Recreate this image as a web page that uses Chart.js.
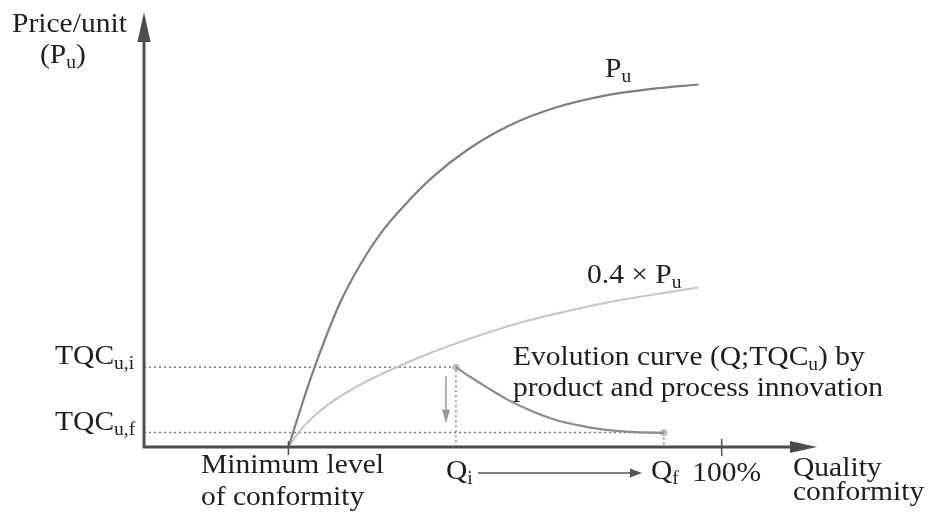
<!DOCTYPE html>
<html>
<head>
<meta charset="utf-8">
<script src="https://cdn.jsdelivr.net/npm/chart.js@4/dist/chart.umd.min.js"></script>
<style>
html,body{margin:0;padding:0;background:#fff;}
#wrap{width:928px;height:515px;position:relative;}
</style>
</head>
<body>
<div id="wrap"><canvas id="c" width="928" height="515"></canvas></div>
<script>
// ---- Data (arbitrary units) ----
// Quality conformity axis: 0 .. ~116 (100 = 100%)
// Price/unit axis: 0 .. 120
const puX = [25, 26.2, 27.6, 29.3, 31.4, 34, 37.5, 41, 45, 50, 56, 63, 71, 80, 88, 96];
const puY = [0, 6, 13, 21, 30, 40, 50.5, 59, 66.5, 74.5, 82, 88.5, 93.5, 97, 98.8, 100];

const p04X = [25, 27, 30, 34, 39, 44, 50, 57, 64, 72, 80, 88, 96];
const p04Y = [0, 4.5, 9.3, 14, 18.5, 22.2, 26.2, 30.2, 33.8, 37, 39.8, 42, 44];

const evoX = [54, 56.5, 59.5, 63, 67, 71, 75.5, 80, 85, 90];
const evoY = [22, 19.3, 16.3, 13, 10, 7.6, 5.9, 4.7, 4.1, 3.9];

// Marks on the quality axis: minimum level, Qi, Qf, 100%
const qualityMarks = [25, 54, 90, 100];
// Marks on the price axis: TQC_u,i, TQC_u,f
const tqcMarks = [22, 4];

const xMax = 116.5;
const yMax = 120;

const [minLevel, Qi, Qf, full] = qualityMarks;
const [tqcI, tqcF] = tqcMarks;

const toPts = (xs, ys) => xs.map((x, i) => ({x: x, y: ys[i]}));

const SERIF = '"Liberation Serif", "Times New Roman", serif';
const MAIN = '28px ' + SERIF;
const SUB = '18.5px ' + SERIF;
const SX = 1.055; // horizontal stretch of the lettering in the reference
const TXT = '#1e1e1e';
const AXIS = '#4d4d4d';

function drawRich(ctx, x, y, parts, align) {
  let w = 0;
  parts.forEach(p => { ctx.font = p.sub ? SUB : MAIN; p.w = ctx.measureText(p.t).width * SX; w += p.w; });
  let cx = align === 'center' ? x - w / 2 : (align === 'right' ? x - w : x);
  ctx.fillStyle = TXT;
  ctx.textAlign = 'left';
  ctx.textBaseline = 'alphabetic';
  parts.forEach(p => {
    ctx.font = p.sub ? SUB : MAIN;
    ctx.save();
    ctx.translate(cx, p.sub ? y + 5 : y);
    ctx.scale(SX, 1);
    ctx.fillText(p.t, 0, 0);
    ctx.restore();
    cx += p.w;
  });
}

function arrowHead(ctx, tipX, tipY, dir, len, half, color) {
  ctx.fillStyle = color;
  ctx.beginPath();
  if (dir === 'up') {
    ctx.moveTo(tipX, tipY); ctx.lineTo(tipX - half, tipY + len); ctx.lineTo(tipX + half, tipY + len);
  } else if (dir === 'right') {
    ctx.moveTo(tipX, tipY); ctx.lineTo(tipX - len, tipY - half); ctx.lineTo(tipX - len, tipY + half);
  } else if (dir === 'down') {
    ctx.moveTo(tipX, tipY); ctx.lineTo(tipX - half, tipY - len); ctx.lineTo(tipX + half, tipY - len);
  }
  ctx.closePath();
  ctx.fill();
}

const decor = {
  id: 'decor',
  afterDatasetsDraw(chart) {
    const ctx = chart.ctx;
    const xs = chart.scales.x, ys = chart.scales.y;
    const area = chart.chartArea;
    const x0 = xs.getPixelForValue(0);
    const y0 = ys.getPixelForValue(0);
    ctx.save();
    ctx.lineCap = 'butt';

    // Axes
    ctx.strokeStyle = AXIS;
    ctx.lineWidth = 3;
    ctx.beginPath();
    ctx.moveTo(x0, y0 + 1.5);
    ctx.lineTo(x0, area.top + 26);
    ctx.moveTo(x0 - 1.5, y0);
    ctx.lineTo(area.right - 24, y0);
    ctx.stroke();
    arrowHead(ctx, x0, area.top, 'up', 30, 6.5, AXIS);
    arrowHead(ctx, area.right, y0, 'right', 27, 6, AXIS);

    // Ticks
    ctx.lineWidth = 1.5;
    ctx.beginPath();
    const mx = xs.getPixelForValue(minLevel);
    ctx.moveTo(mx, y0 - 6); ctx.lineTo(mx, y0 + 8);
    const fx = xs.getPixelForValue(full);
    ctx.moveTo(fx, y0 - 8); ctx.lineTo(fx, y0 + 9);
    ctx.stroke();

    // Down arrow (TQC reduction)
    const qiPx = xs.getPixelForValue(Qi);
    const qfPx = xs.getPixelForValue(Qf);
    const yI = ys.getPixelForValue(tqcI);
    const yF = ys.getPixelForValue(tqcF);
    ctx.strokeStyle = '#9a9a9a';
    ctx.lineWidth = 1.5;
    ctx.beginPath();
    ctx.moveTo(qiPx - 10, yI + 9);
    ctx.lineTo(qiPx - 10, yF - 20);
    ctx.stroke();
    arrowHead(ctx, qiPx - 10, yF - 9, 'down', 14, 4, '#9a9a9a');

    // Qi -> Qf arrow
    const ay = y0 + 26;
    ctx.strokeStyle = '#555';
    ctx.lineWidth = 1.5;
    ctx.beginPath();
    ctx.moveTo(qiPx + 22, ay);
    ctx.lineTo(qfPx - 32, ay);
    ctx.stroke();
    arrowHead(ctx, qfPx - 22, ay, 'right', 12, 4.5, '#555');

    // Texts
    drawRich(ctx, 12, 32, [{t: 'Price/unit'}]);
    drawRich(ctx, 40, 63, [{t: '(P'}, {t: 'u', sub: true}, {t: ')'}]);
    drawRich(ctx, 605, 77, [{t: 'P'}, {t: 'u', sub: true}]);
    drawRich(ctx, 587, 283, [{t: '0.4 \u00d7 P'}, {t: 'u', sub: true}]);
    drawRich(ctx, x0 - 89, yI - 3, [{t: 'TQC'}, {t: 'u,i', sub: true}]);
    drawRich(ctx, x0 - 89, yF - 3, [{t: 'TQC'}, {t: 'u,f', sub: true}]);
    drawRich(ctx, 513, 365, [{t: 'Evolution curve (Q;TQC'}, {t: 'u', sub: true}, {t: ') by'}]);
    drawRich(ctx, 513, 396, [{t: 'product and process innovation'}]);
    drawRich(ctx, 201, y0 + 26, [{t: 'Minimum level'}]);
    drawRich(ctx, 201, y0 + 58, [{t: 'of conformity'}]);
    drawRich(ctx, qiPx - 10, y0 + 32, [{t: 'Q'}, {t: 'i', sub: true}]);
    drawRich(ctx, qfPx - 13, y0 + 32, [{t: 'Q'}, {t: 'f', sub: true}]);
    drawRich(ctx, fx + 5, y0 + 34, [{t: '100%'}], 'center');
    drawRich(ctx, 793, y0 + 29, [{t: 'Quality'}]);
    drawRich(ctx, 793, y0 + 53, [{t: 'conformity'}]);
    ctx.restore();
  }
};

const lineBase = {pointRadius: 0, borderWidth: 2.2, fill: false, cubicInterpolationMode: 'monotone'};

new Chart(document.getElementById('c'), {
  type: 'line',
  data: {
    datasets: [
      Object.assign({label: 'Pu', data: toPts(puX, puY), borderColor: '#7f7f7f'}, lineBase),
      Object.assign({label: '0.4 x Pu', data: toPts(p04X, p04Y), borderColor: '#c8c8c8'}, lineBase),
      Object.assign({label: 'Evolution curve', data: toPts(evoX, evoY), borderColor: '#8c8c8c'}, lineBase),
      {label: 'ends', data: [{x: Qi, y: tqcI}, {x: Qf, y: tqcF}], showLine: false,
       pointRadius: 3.5, pointBackgroundColor: '#bdbdbd', pointBorderWidth: 0, borderColor: '#bdbdbd'},
      {label: 'guide i', data: [{x: 0, y: tqcI}, {x: Qi, y: tqcI}, {x: Qi, y: 0}], borderColor: '#7a7a7a',
       borderWidth: 1.4, borderDash: [2, 3], pointRadius: 0, tension: 0, fill: false},
      {label: 'guide f', data: [{x: 0, y: tqcF}, {x: Qf, y: tqcF}, {x: Qf, y: 0}], borderColor: '#7a7a7a',
       borderWidth: 1.4, borderDash: [2, 3], pointRadius: 0, tension: 0, fill: false}
    ]
  },
  options: {
    responsive: false,
    animation: false,
    devicePixelRatio: 1,
    layout: {padding: {left: 144, right: 111, top: 12, bottom: 68}},
    plugins: {legend: {display: false}, tooltip: {enabled: false}},
    scales: {
      x: {type: 'linear', min: 0, max: xMax, display: false},
      y: {type: 'linear', min: 0, max: yMax, display: false}
    }
  },
  plugins: [decor]
});
</script>
</body>
</html>
